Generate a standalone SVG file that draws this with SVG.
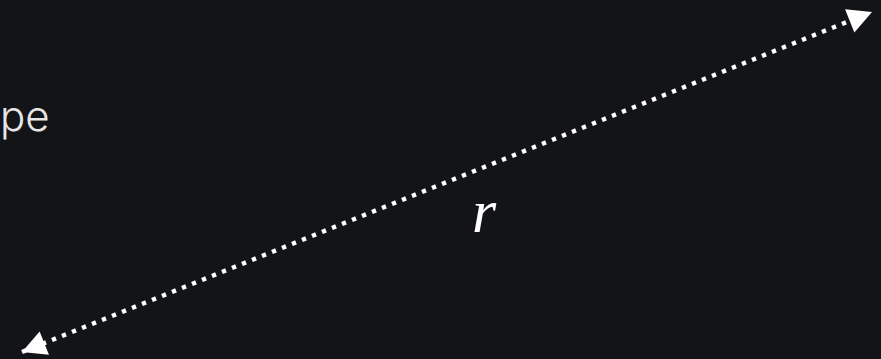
<svg xmlns="http://www.w3.org/2000/svg" width="881" height="359" viewBox="0 0 881 359">
  <defs>
    <marker id="head" markerUnits="userSpaceOnUse" viewBox="-30 -20 40 40" refX="0" refY="0" markerWidth="40" markerHeight="40" orient="auto-start-reverse" overflow="visible">
      <path d="M0,0 L-24,-12.5 L-24,12.5 Z" fill="#ffffff"/>
    </marker>
    <style>
      .conn { stroke: #ffffff; stroke-width: 4.5; stroke-dasharray: 4.3 6.47; fill: none; }
      .label { fill: #e6e6e6; font-family: Inter, "Liberation Sans", sans-serif; font-weight: 300; font-size: 42px; }
      .math { fill: #ffffff; font-family: "Liberation Serif", serif; font-style: italic; font-size: 62px; }
    </style>
  </defs>
  <rect width="881" height="359" fill="#131417"/>
  <g id="label-pe">
    <text class="label" x="0" y="131">pe</text>
  </g>
  <g id="connectors">
    <line class="conn" x1="22" y1="352" x2="872" y2="12" marker-start="url(#head)" marker-end="url(#head)"/>
  </g>
  <g id="label-r">
    <text class="math" x="472" y="232">r</text>
  </g>
</svg>
